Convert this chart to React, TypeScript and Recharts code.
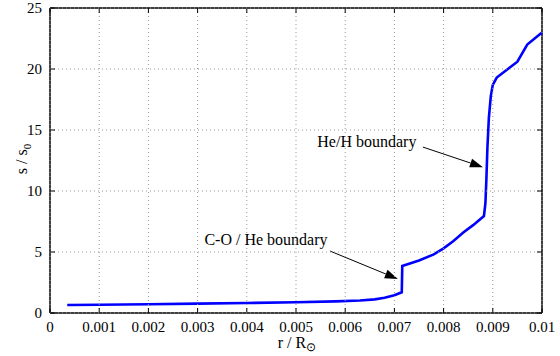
import { LineChart, Line, XAxis, YAxis, ReferenceLine, ReferenceDot } from "recharts";

// radius in solar radii
const radius = [
  0.00035, 0.001, 0.002, 0.003, 0.004, 0.005, 0.0058, 0.0063, 0.0066, 0.0068,
  0.007, 0.00715, 0.00716, 0.0075, 0.0078, 0.008, 0.0082, 0.0084, 0.0086,
  0.00882, 0.00885, 0.00887, 0.00889, 0.00892, 0.00896, 0.009, 0.00908,
  0.0095, 0.0097, 0.01,
];
// entropy s / s0
const entropy = [
  0.65, 0.68, 0.72, 0.77, 0.82, 0.88, 0.95, 1.02, 1.12, 1.25, 1.45, 1.7, 3.85,
  4.3, 4.8, 5.3, 5.9, 6.6, 7.2, 7.95, 9.0, 11.0, 13.5, 16.0, 17.8, 18.7, 19.3,
  20.6, 22.0, 23.0,
];

const xTicks = [0, 0.001, 0.002, 0.003, 0.004, 0.005, 0.006, 0.007, 0.008, 0.009, 0.01];
const yTicks = [0, 5, 10, 15, 20, 25];

const annotations = [
  { text: "He/H boundary", tx: 0.00644, ty: 14.1, from: [0.00758, 13.6], to: [0.0088, 11.95] },
  { text: "C-O / He boundary", tx: 0.00439, ty: 6.0, from: [0.00569, 5.08], to: [0.00707, 2.79] },
];

const data = radius.map((r, i) => ({ r, s: entropy[i] }));

const font = "Liberation Serif";

const W = 560;
const H = 356;
const M = { top: 8, right: 18, left: 0, bottom: 0 };
const xAxisH = 43;
const yAxisW = 50;
const plotTop = M.top;
const plotBottom = H - M.bottom - xAxisH;
const plotLeft = M.left + yAxisW;
const plotRight = W - M.right;

function Arrow(props: any) {
  const { x1, y1, x2, y2 } = props;
  const ang = Math.atan2(y2 - y1, x2 - x1);
  const len = 13;
  const half = 4.5;
  const bx = x2 - len * Math.cos(ang);
  const by = y2 - len * Math.sin(ang);
  const px = -Math.sin(ang) * half;
  const py = Math.cos(ang) * half;
  return (
    <g>
      <line x1={x1} y1={y1} x2={bx} y2={by} stroke="#000" strokeWidth={1} />
      <polygon points={`${x2},${y2} ${bx + px},${by + py} ${bx - px},${by - py}`} fill="#000" />
    </g>
  );
}

// tick label, dotted grid line and inward tick marks for one x tick
function XTick(props: any) {
  const { x, y, payload } = props;
  return (
    <g>
      <line x1={x} x2={x} y1={plotTop} y2={plotBottom} stroke="#999" strokeDasharray="1 3" />
      <line x1={x} x2={x} y1={plotBottom} y2={plotBottom - 5} stroke="#000" />
      <line x1={x} x2={x} y1={plotTop} y2={plotTop + 5} stroke="#000" />
      <text x={x} y={y + 11} textAnchor="middle" fontFamily={font} fontSize={15} fill="#000">
        {String(payload.value)}
      </text>
    </g>
  );
}

// tick label, dotted grid line and inward tick marks for one y tick
function YTick(props: any) {
  const { x, y, payload } = props;
  return (
    <g>
      <line x1={plotLeft} x2={plotRight} y1={y} y2={y} stroke="#999" strokeDasharray="1 3" />
      <line x1={plotLeft} x2={plotLeft + 5} y1={y} y2={y} stroke="#000" />
      <line x1={plotRight} x2={plotRight - 5} y1={y} y2={y} stroke="#000" />
      <text x={x} y={y + 5} textAnchor="end" fontFamily={font} fontSize={15} fill="#000">
        {String(payload.value)}
      </text>
    </g>
  );
}

export default function App() {
  return (
    <div style={{ position: "absolute", left: 0, top: 0, width: W, height: H, background: "#fff" }}>
      <LineChart width={W} height={H} data={data} margin={M}>
        <XAxis
          dataKey="r"
          type="number"
          domain={[0, 0.01]}
          ticks={xTicks}
          interval={0}
          height={xAxisH}
          tick={<XTick />}
          tickLine={false}
          axisLine={{ stroke: "#000", strokeWidth: 1.5 }}
        />
        <YAxis
          type="number"
          domain={[0, 25]}
          ticks={yTicks}
          interval={0}
          width={yAxisW}
          tick={<YTick />}
          tickLine={false}
          axisLine={{ stroke: "#000", strokeWidth: 1.5 }}
        />
        <ReferenceLine y={25} stroke="#000" strokeWidth={1.5} />
        <ReferenceLine x={0.01} stroke="#000" strokeWidth={1.5} />
        <Line
          dataKey="s"
          type="linear"
          stroke="#0000ff"
          strokeWidth={2.6}
          dot={false}
          isAnimationActive={false}
        />
        {annotations.map((a) => (
          <ReferenceLine
            key={a.text + "-arrow"}
            segment={[
              { x: a.from[0], y: a.from[1] },
              { x: a.to[0], y: a.to[1] },
            ]}
            shape={<Arrow />}
          />
        ))}
        {annotations.map((a) => (
          <ReferenceDot
            key={a.text}
            x={a.tx}
            y={a.ty}
            r={0}
            fill="none"
            stroke="none"
            label={{ value: a.text, position: "center", fontSize: 16, fontFamily: font, fill: "#000" }}
          />
        ))}
      </LineChart>
      <svg
        width={W}
        height={H}
        style={{ position: "absolute", left: 0, top: 0, pointerEvents: "none" }}
      >
        <text x={297} y={348} textAnchor="middle" fontFamily={font} fontSize={16} fill="#000">
          r / R
          <tspan fontSize={12} dy={3}>⊙</tspan>
        </text>
        <text
          x={0}
          y={0}
          transform="translate(27,159) rotate(-90)"
          textAnchor="middle"
          fontFamily={font}
          fontSize={16}
          fill="#000"
        >
          s / s
          <tspan fontSize={11} dy={4}>0</tspan>
        </text>
      </svg>
    </div>
  );
}
